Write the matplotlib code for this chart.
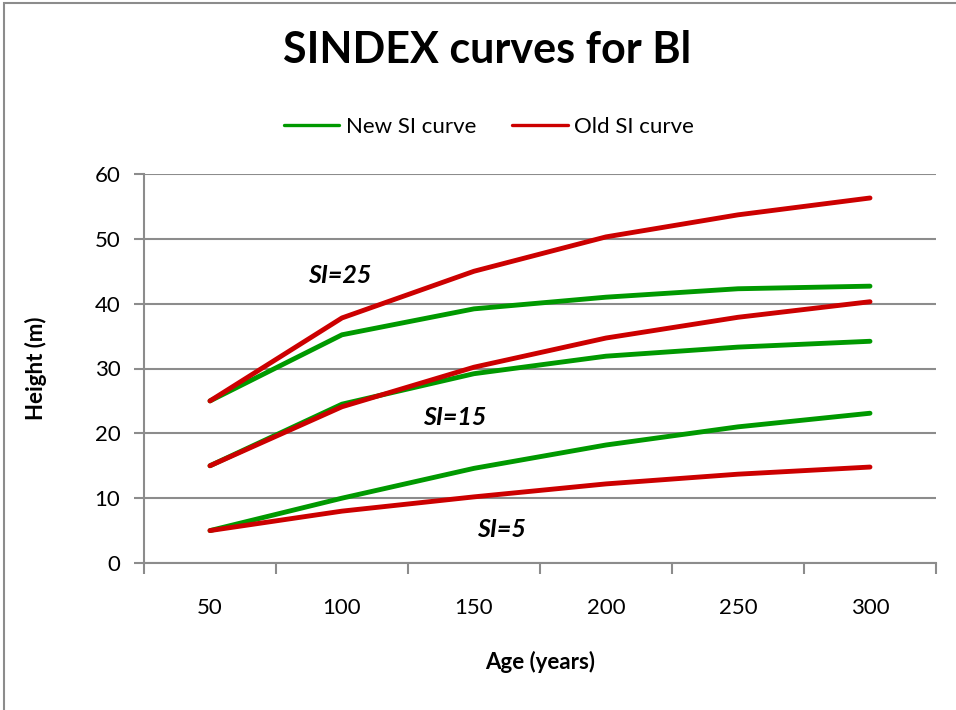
import numpy as np
import matplotlib
matplotlib.use("Agg")
from matplotlib import pyplot as plt
from matplotlib.patches import Rectangle

plt.rcParams["font.family"] = ["Lato", "DejaVu Sans"]

ages = [50, 100, 150, 200, 250, 300]
new_si25 = [25.0, 35.2, 39.2, 41.0, 42.3, 42.7]
new_si15 = [15.0, 24.5, 29.2, 31.9, 33.3, 34.2]
new_si5 = [5.0, 10.0, 14.6, 18.2, 21.0, 23.1]
old_si25 = [25.0, 37.8, 45.0, 50.3, 53.7, 56.3]
old_si15 = [15.0, 24.1, 30.2, 34.7, 37.9, 40.3]
old_si5 = [5.0, 8.0, 10.2, 12.2, 13.7, 14.8]

green = "#009900"
red = "#cc0000"
grid_c = "#8c8c8c"

fig = plt.figure(figsize=(9.56, 7.10), dpi=100)
# chart border (Excel style, cut off at right and bottom)
fig.patches.append(Rectangle((4 / 956, -0.1), 1.2, 1 - 3 / 710 + 0.1, transform=fig.transFigure,
                             fill=False, edgecolor="#8c8c8c", linewidth=1.5))

ax = fig.add_axes([144 / 956, 1 - 563 / 710, (936 - 144) / 956, (563 - 174) / 710])
x = np.arange(len(ages))

lw = 3.5
ax.plot(x, new_si25, color=green, lw=lw, solid_capstyle="round", label="New SI curve", zorder=3)
ax.plot(x, new_si15, color=green, lw=lw, solid_capstyle="round", zorder=3)
ax.plot(x, new_si5, color=green, lw=lw, solid_capstyle="round", zorder=3)
ax.plot(x, old_si25, color=red, lw=lw, solid_capstyle="round", label="Old SI curve", zorder=4)
ax.plot(x, old_si15, color=red, lw=lw, solid_capstyle="round", zorder=4)
ax.plot(x, old_si5, color=red, lw=lw, solid_capstyle="round", zorder=4)

ax.set_xlim(-0.5, len(ages) - 0.5)
ax.set_ylim(0, 60)
ax.set_yticks(range(0, 61, 10))
ax.set_xticks(x)
ax.set_xticklabels([str(a) for a in ages], fontsize=16)
ax.set_xticks(np.arange(-0.5, len(ages), 1), minor=True)
ax.tick_params(axis="x", which="major", length=0, pad=25)
ax.tick_params(axis="x", which="minor", length=8, width=1.5, color=grid_c, direction="out")
ax.tick_params(axis="y", length=7, width=1.5, color=grid_c, labelsize=16, pad=10)

ax.grid(axis="y", color=grid_c, lw=1.5)
ax.set_axisbelow(True)
for s in ["top", "right"]:
    ax.spines[s].set_visible(False)
ax.spines["left"].set_color(grid_c)
ax.spines["left"].set_linewidth(1.5)
ax.spines["bottom"].set_color(grid_c)
ax.spines["bottom"].set_linewidth(1.5)

ax.set_ylabel("Height (m)", fontsize=16, fontweight="bold", labelpad=34)
ax.set_xlabel("Age (years)", fontsize=16, fontweight="bold", labelpad=24)

ax.text(0.985, 44.4, "SI=25", fontsize=18, fontweight="bold", style="italic", ha="center", va="center")
ax.text(1.856, 22.5, "SI=15", fontsize=18, fontweight="bold", style="italic", ha="center", va="center")
ax.text(2.205, 5.1, "SI=5", fontsize=18, fontweight="bold", style="italic", ha="center", va="center")

fig.text(487 / 956, 1 - 50 / 710, "SINDEX curves for Bl", fontsize=31, fontweight="bold",
         ha="center", va="center")
leg = fig.legend(loc="center", bbox_to_anchor=(489 / 956, 1 - 127 / 710), ncol=2, frameon=False,
                 fontsize=16, handlelength=2.5, columnspacing=1.6, handletextpad=0.3)
for h in leg.get_lines():
    h.set_linewidth(2.4)

fig.savefig("out.png", dpi=100)
